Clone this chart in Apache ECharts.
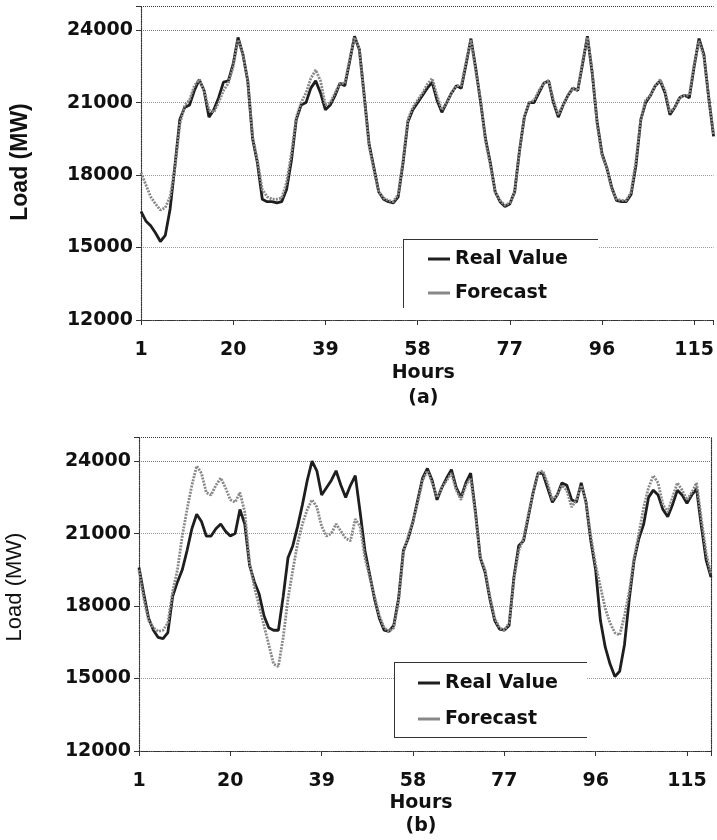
<!DOCTYPE html>
<html>
<head>
<meta charset="utf-8">
<script src="https://cdn.jsdelivr.net/npm/echarts@6/dist/echarts.min.js"></script>
<style>
  html, body { margin: 0; padding: 0; background: #fff; }
  #main { width: 717px; height: 840px; }
</style>
</head>
<body>
<div id="main"></div>
<script>
// tick labels
const xTicks = [1, 20, 39, 58, 77, 96, 115];
const yTicks = [12000, 15000, 18000, 21000, 24000];

// (a) hourly load, MW (hours 1..119)
const realA = [
  16500, 16100, 15900, 15600, 15250, 15500, 16600, 18400, 20300, 20800,
  20900, 21500, 21950, 21500, 20400, 20700, 21200, 21850, 21900, 22600,
  23700, 23000, 21900, 19500, 18500, 17000, 16900, 16900, 16850, 16900,
  17400, 18600, 20300, 20900, 21000, 21600, 21900, 21400, 20700, 20900,
  21300, 21800, 21700, 22700, 23750, 23200, 21300, 19300, 18300, 17300,
  17000, 16900, 16850, 17100, 18500, 20200, 20700, 21000, 21300, 21600,
  21850, 21100, 20600, 21000, 21400, 21700, 21600, 22600, 23650, 22400,
  21000, 19500, 18500, 17300, 16900, 16700, 16800, 17300, 19000, 20400,
  21000, 21000, 21400, 21800, 21900, 21000, 20400, 20900, 21300, 21600,
  21500, 22600, 23750, 22200, 20200, 18900, 18300, 17500, 16950, 16900,
  16900, 17200, 18400, 20300, 21000, 21300, 21700, 21900, 21400, 20500,
  20800, 21200, 21300, 21200, 22500, 23650, 23000, 21200, 19600
];
const forecastA = [
  18100, 17600, 17100, 16800, 16550, 16650, 17100, 18300, 20100, 20900,
  21100, 21700, 21950, 21500, 20700, 20600, 21000, 21500, 21800, 22500,
  23600, 23000, 21900, 19600, 18600, 17400, 17100, 17000, 17000, 17050,
  17700, 18900, 20400, 21000, 21400, 22000, 22350, 21900, 20900, 21000,
  21400, 21800, 21800, 22800, 23700, 23200, 21200, 19200, 18200, 17300,
  17050, 16950, 16900, 17200, 18600, 20300, 20800, 21100, 21400, 21750,
  22000, 21300, 20700, 21000, 21400, 21700, 21700, 22700, 23600, 22300,
  21100, 19400, 18400, 17300, 16950, 16750, 16850, 17300, 19000, 20400,
  21000, 21100, 21500, 21800, 21900, 21100, 20500, 20900, 21300, 21600,
  21500, 22700, 23700, 22300, 20100, 18800, 18300, 17400, 17000, 16950,
  16950, 17300, 18600, 20300, 21100, 21300, 21700, 21950, 21500, 20600,
  20800, 21200, 21300, 21300, 22600, 23550, 22900, 21200, 19700
];

// (b) hourly load, MW (hours 1..120)
const realB = [
  19600, 18500, 17500, 17000, 16700, 16650, 16900, 18400, 19000, 19500,
  20300, 21200, 21800, 21500, 20900, 20900, 21200, 21400, 21100, 20900,
  21000, 22000, 21400, 19700, 19000, 18500, 17600, 17100, 17000, 17000,
  18400, 20000, 20500, 21300, 22200, 23200, 24000, 23600, 22600, 22900,
  23200, 23600, 23000, 22500, 23000, 23400, 21900, 20300, 19300, 18300,
  17500, 17000, 16950, 17200, 18300, 20300, 20800, 21500, 22400, 23300,
  23700, 23200, 22400, 22900, 23300, 23650, 22900, 22500, 23100, 23500,
  21900, 20000, 19400, 18300, 17400, 17050, 17000, 17200, 19200, 20500,
  20700, 21700, 22700, 23500, 23500, 22900, 22300, 22600, 23100, 23000,
  22400, 22300, 23100, 22300, 20700, 19500, 17400, 16300, 15600, 15080,
  15300, 16400, 18300, 19900, 20800, 21400, 22500, 22800, 22600, 22000,
  21700, 22200, 22800, 22600, 22250, 22600, 22850, 21300, 19900, 19200
];
const forecastB = [
  19500, 18300, 17400, 17100, 16950, 17000, 17300, 18600, 19500, 20900,
  22000, 23000, 23800, 23500, 22700, 22600, 23000, 23300, 22900, 22400,
  22300, 22700, 21900, 19800, 18800, 18000, 17200, 16400, 15600, 15500,
  16700, 18300, 19500, 20600, 21400, 22000, 22400, 22100, 21300, 20900,
  21000, 21400, 21100, 20800, 20700, 21600, 21300, 20000, 19200, 18400,
  17600, 17100, 16950, 17100, 18200, 20200, 20900, 21500, 22300, 23200,
  23600, 23100, 22500, 22900, 23200, 23500, 22800, 22400, 23000, 23300,
  21800, 20000, 19500, 18400, 17500, 17100, 17000, 17300, 19100, 20300,
  20800, 21800, 22700, 23500, 23600, 23100, 22400, 22600, 23000, 22800,
  22100, 22400, 23000, 22300, 20900, 19700, 18800, 17900, 17300, 16900,
  16800, 17600, 18600, 20000, 21000, 22100, 22900, 23400, 23100, 22200,
  21900, 22500, 23100, 22800, 22400, 22700, 23100, 21600, 20200, 19300
];

const toPairs = arr => arr.map((v, i) => [i + 1, v]);

const tickFont = { fontFamily: 'DejaVu Sans', fontWeight: 'bold', fontSize: 19, color: '#111' };
const dotted = { type: 'dotted', color: '#333', width: 1.2 };

function xAxisFor(gridIndex, max, name, lineH, gap) {
  return {
    type: 'value', gridIndex: gridIndex, min: 1, max: max, interval: 19,
    axisLine: { show: true, onZero: false, lineStyle: dotted },
    axisTick: { show: true, length: 5, lineStyle: { color: '#333' } },
    splitLine: { show: false },
    axisLabel: Object.assign({
      margin: 21,
      formatter: v => (xTicks.includes(v) ? String(v) : '')
    }, tickFont),
    name: name, nameLocation: 'middle', nameGap: gap,
    nameTextStyle: Object.assign({ lineHeight: lineH, padding: [0, 8, 0, 0] }, tickFont)
  };
}

function yAxisFor(gridIndex) {
  return {
    type: 'value', gridIndex: gridIndex, min: 12000, max: 25000, interval: 3000,
    axisLine: { show: true, lineStyle: dotted },
    axisTick: { show: true, length: 5, lineStyle: { color: '#333' } },
    splitLine: {
      show: true,
      lineStyle: { type: 'dotted', width: 1, color: ['#333', '#999', '#999', '#999', '#777', '#333'] }
    },
    axisLabel: Object.assign({
      margin: 8,
      formatter: v => (yTicks.includes(v) ? String(v) : '')
    }, tickFont)
  };
}

function seriesFor(idx, real, fc) {
  return [
    {
      name: 'Real Value', type: 'line', xAxisIndex: idx, yAxisIndex: idx,
      data: toPairs(real), showSymbol: false, z: 2,
      color: '#1e1e1e',
      lineStyle: { color: '#1e1e1e', width: 2.8 }
    },
    {
      name: 'Forecast', type: 'line', xAxisIndex: idx, yAxisIndex: idx,
      data: toPairs(fc), showSymbol: false, z: 3,
      color: '#888',
      lineStyle: { color: '#888', width: 2.8, type: [2, 1.2] }
    }
  ];
}

function legendAt(left, top, gap) {
  return {
    orient: 'vertical', left: left, top: top, padding: 0, z: 6,
    itemWidth: 22, itemHeight: 3, itemGap: gap, icon: 'rect',
    data: ['Real Value', 'Forecast'],
    textStyle: { fontFamily: 'DejaVu Sans', fontWeight: 'bold', fontSize: 19, color: '#111', lineHeight: 20 }
  };
}

const boxLine = (x1, y1, x2, y2) => ({
  type: 'line', z: 5, shape: { x1: x1, y1: y1, x2: x2, y2: y2 },
  style: { stroke: '#333', lineWidth: 1 }
});

const myChart = echarts.init(document.getElementById('main'));
const option = {
  animation: false,
  backgroundColor: '#fff',
  grid: [
    { left: 141, top: 6, width: 576, height: 314 },
    { left: 139, top: 437, width: 572, height: 314 }
  ],
  xAxis: [
    xAxisFor(0, 119, 'Hours\n(a)', 25, 32),
    xAxisFor(1, 120, 'Hours\n(b)', 23, 36)
  ],
  yAxis: [
    yAxisFor(0),
    yAxisFor(1),
    {
      // right border of (b)
      type: 'value', gridIndex: 1, position: 'right', min: 12000, max: 25000,
      axisLine: { show: true, lineStyle: dotted },
      axisTick: { show: false }, axisLabel: { show: false }, splitLine: { show: false }
    }
  ],
  legend: [legendAt(428, 249, 14), legendAt(418, 673, 16)],
  graphic: [
    { type: 'rect', z: 4, shape: { x: 403, y: 239, width: 195, height: 69 }, style: { fill: '#fff' } },
    boxLine(403, 239.5, 598, 239.5),
    boxLine(403.5, 239, 403.5, 308),
    { type: 'rect', z: 4, shape: { x: 394, y: 662, width: 193, height: 75 }, style: { fill: '#fff' } },
    boxLine(394, 662.5, 587, 662.5),
    boxLine(394, 737.5, 587, 737.5),
    boxLine(394.5, 662, 394.5, 737),
    {
      type: 'text', x: 21, y: 162, rotation: Math.PI / 2, z: 5,
      style: {
        text: 'Load (MW)', fill: '#111', fontFamily: 'Liberation Sans', fontWeight: 'bold', fontSize: 23,
        align: 'center', verticalAlign: 'middle', textAlign: 'center', textVerticalAlign: 'middle'
      }
    },
    {
      type: 'text', x: 15, y: 587, rotation: Math.PI / 2, z: 5,
      style: {
        text: 'Load (MW)', fill: '#111', fontFamily: 'Liberation Sans', fontSize: 22,
        align: 'center', verticalAlign: 'middle', textAlign: 'center', textVerticalAlign: 'middle'
      }
    }
  ],
  series: seriesFor(0, realA, forecastA).concat(seriesFor(1, realB, forecastB))
};
myChart.setOption(option);
</script>
</body>
</html>
